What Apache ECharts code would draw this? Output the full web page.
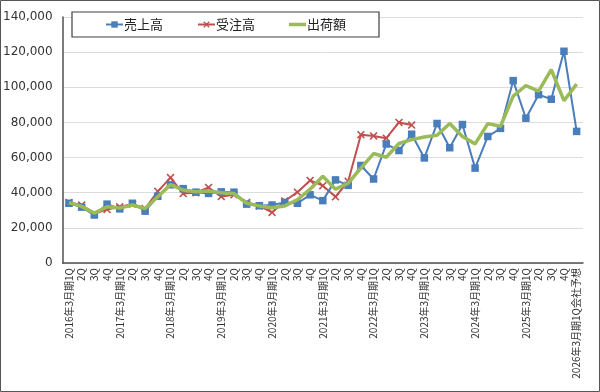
<!DOCTYPE html>
<html><head><meta charset="utf-8">
<script src="https://cdn.jsdelivr.net/npm/echarts@6/dist/echarts.min.js"></script>
<style>html,body{margin:0;padding:0;background:#fff}#c{width:600px;height:392px}</style>
</head><body><div id="c"></div>
<script>
const categories = [
 '2016年3月期1Q','2Q','3Q','4Q',
 '2017年3月期1Q','2Q','3Q','4Q',
 '2018年3月期1Q','2Q','3Q','4Q',
 '2019年3月期1Q','2Q','3Q','4Q',
 '2020年3月期1Q','2Q','3Q','4Q',
 '2021年3月期1Q','2Q','3Q','4Q',
 '2022年3月期1Q','2Q','3Q','4Q',
 '2023年3月期1Q','2Q','3Q','4Q',
 '2024年3月期1Q','2Q','3Q','4Q',
 '2025年3月期1Q','2Q','3Q','4Q',
 '2026年3月期1Q会社予想'
];
const sales = [34000,31800,27300,33500,30800,34000,29500,38000,44500,42300,40300,39600,40500,40300,33500,32600,33000,34500,34000,38800,35500,47300,44200,55500,47800,67700,64000,73300,59800,79400,65600,78800,54000,72000,76600,103800,82400,95800,93200,120500,74900];
const orders = [34500,33000,28000,30500,32000,33500,31000,40800,48600,39500,40000,43000,37800,38800,34500,32500,28800,35300,40300,47000,44000,37700,46500,73000,72300,71000,80000,78500,null,null,null,null,null,null,null,null,null,null,null,null,null];
const shipments = [34400,32200,28400,32000,31300,33000,31000,37700,44600,41500,40500,41000,40000,39500,34000,32500,31500,32500,36000,42000,49400,42000,45400,54000,62300,60200,68000,70200,71700,72700,79400,72000,67800,79300,77800,95000,101000,97800,110000,92400,101800];
const seriesNames = ['売上高','受注高','出荷額'];
const yTicks = {min:0, max:140000, interval:20000};

const xPath = 'path://M0,1.4L1.4,0L5,3.6L8.6,0L10,1.4L6.4,5L10,8.6L8.6,10L5,6.4L1.4,10L0,8.6L3.6,5Z';
const chart = echarts.init(document.getElementById('c'), null, {renderer:'canvas'});
chart.setOption({
  backgroundColor:'#fff',
  animation:false,
  textStyle:{fontFamily:'"Noto Sans CJK JP", "DejaVu Sans", sans-serif'},
  grid:{left:60, right:17, top:17, bottom:129, containLabel:false},
  legend:{
    left:72, top:12, width:302,
    padding:[6,33,6,33], itemGap:34, itemWidth:17, itemHeight:8,
    borderColor:'#404040', borderWidth:1.2, backgroundColor:'#fff',
    textStyle:{fontSize:13, color:'#222', fontFamily:'"Noto Sans CJK JP", sans-serif', padding:[0,0,0,-4]},
    data:[seriesNames[0], seriesNames[1], {name:seriesNames[2], icon:'path://M0,0H17V3.5H0Z'}]
  },
  xAxis:{
    type:'category', data:categories, boundaryGap:true,
    axisLine:{lineStyle:{color:'#505050', width:1.5}},
    axisTick:{show:false},
    axisLabel:{interval:0, rotate:90, fontSize:10, color:'#333', margin:5, fontFamily:'"Noto Sans CJK JP", sans-serif'}
  },
  yAxis:{
    type:'value', min:yTicks.min, max:yTicks.max, interval:yTicks.interval,
    axisLine:{show:true, lineStyle:{color:'#505050', width:1.5}},
    axisTick:{show:false},
    splitLine:{lineStyle:{color:'#dcdcdc', width:1}},
    axisLabel:{fontSize:12, color:'#333', margin:10, fontFamily:'"DejaVu Sans", sans-serif',
      formatter:v=>v.toLocaleString('en-US')}
  },
  series:[
    {name:seriesNames[0], type:'line', data:sales, symbol:'rect', symbolSize:7.5,
     lineStyle:{color:'#4a7ebb', width:2}, itemStyle:{color:'#4a7ebb'}, z:3},
    {name:seriesNames[1], type:'line', data:orders, symbol:xPath, symbolSize:8,
     lineStyle:{color:'#c0504d', width:2}, itemStyle:{color:'#c0504d'}, z:2},
    {name:seriesNames[2], type:'line', data:shipments, symbol:'none', showSymbol:false,
     lineStyle:{color:'#9bbb59', width:3.5}, itemStyle:{color:'#9bbb59'}, z:4}
  ],
  graphic:[{type:'rect', shape:{x:0.5,y:0.5,width:599,height:391}, style:{fill:'none', stroke:'#555', lineWidth:1}, silent:true}]
});
</script></body></html>
